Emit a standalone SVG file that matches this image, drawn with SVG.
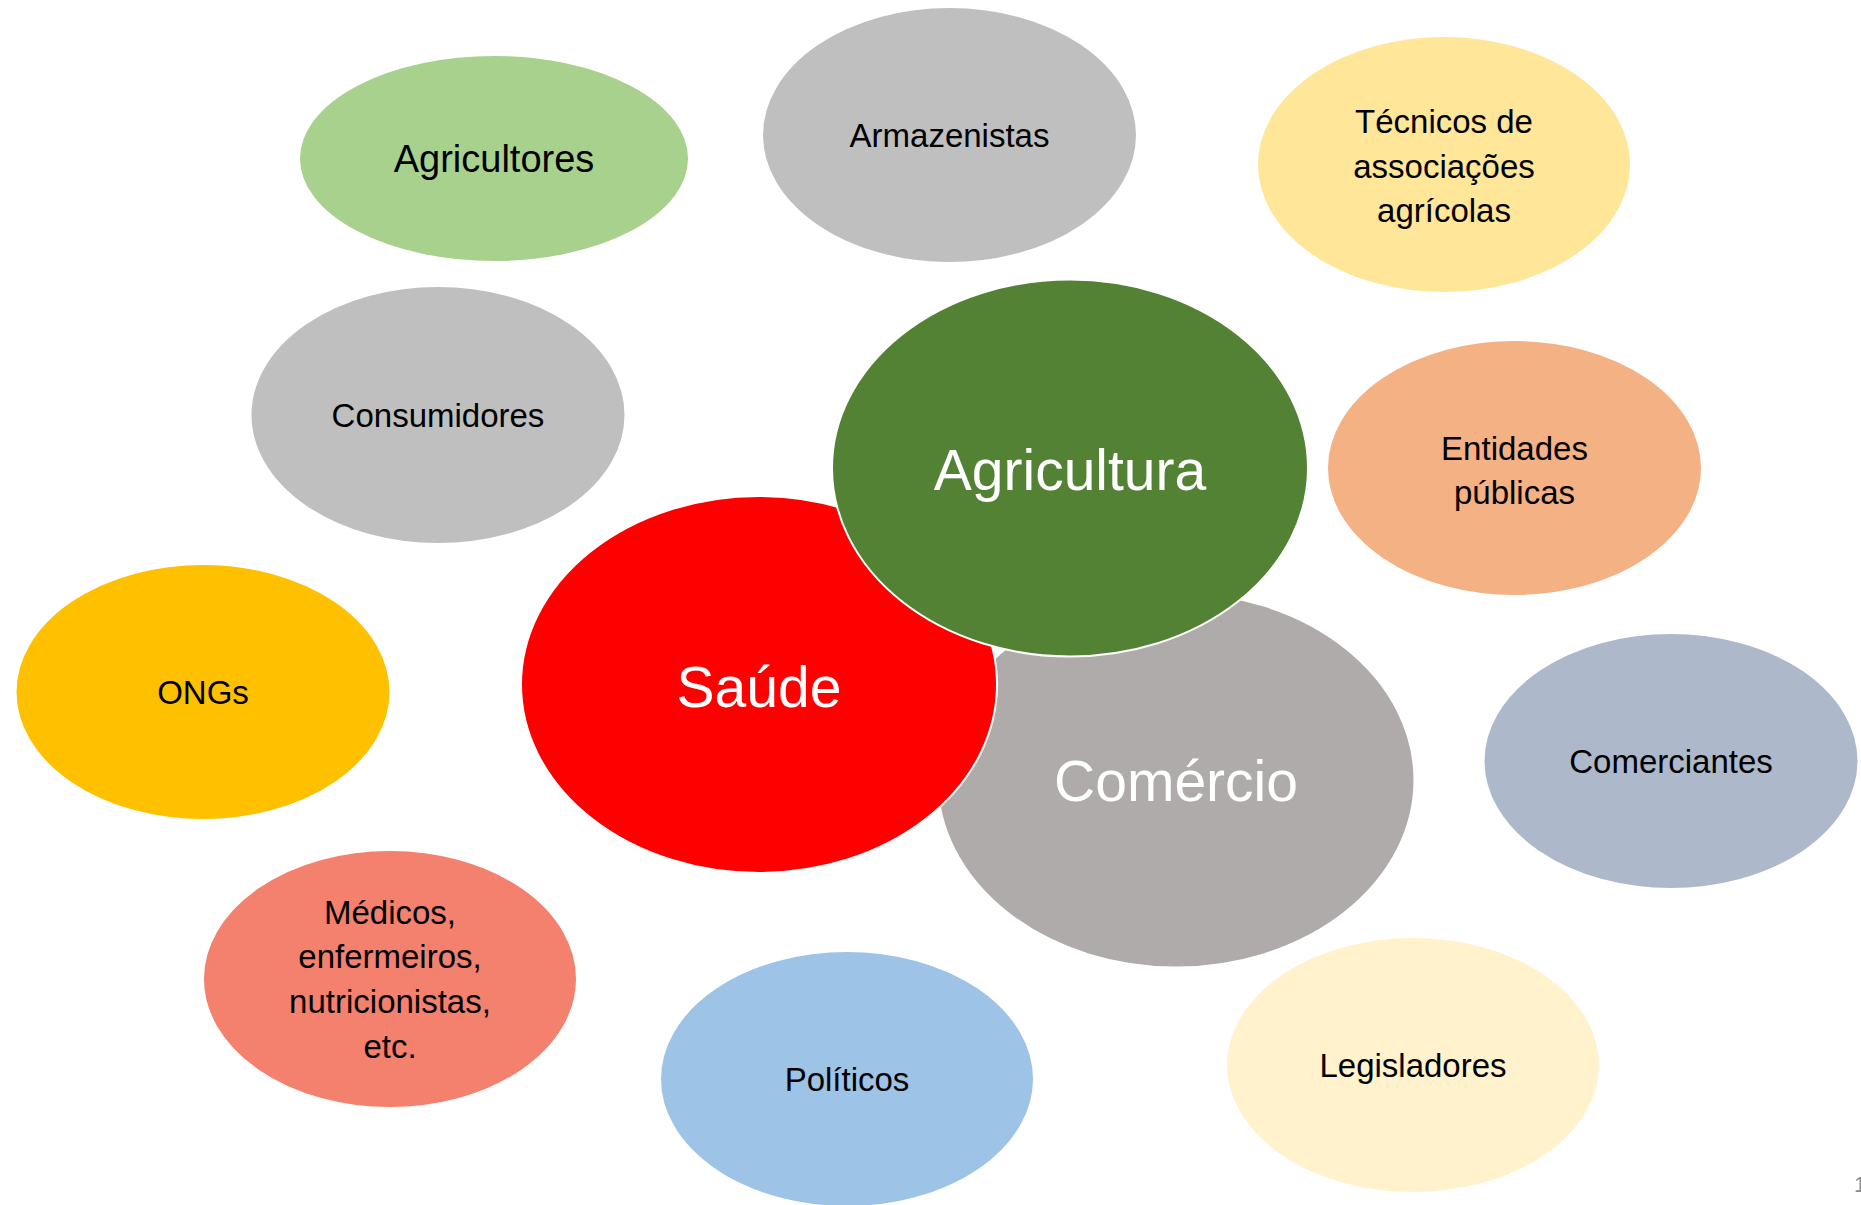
<svg xmlns="http://www.w3.org/2000/svg" width="1861" height="1205" viewBox="0 0 1861 1205">
<style>
  ellipse { stroke: #ffffff; stroke-width: 2; }
  text { font-family: "Liberation Sans", Arial, sans-serif; text-anchor: middle; }
  .s { font-size: 33px; fill: #000000; }
  .m { font-size: 38px; fill: #000000; }
  .b { font-size: 57px; fill: #ffffff; }
  .pg { font-size: 22px; fill: #8c8c8c; text-anchor: start; }
</style>
<rect x="0" y="0" width="1861" height="1205" fill="#ffffff"/>
<g id="connectors"></g>
<g id="agricultores">
  <ellipse cx="494" cy="158.5" rx="195" ry="103.5" fill="#A9D18E"/>
  <text class="m" x="494" y="172">Agricultores</text>
</g>
<g id="armazenistas">
  <ellipse cx="949.5" cy="135" rx="187.5" ry="128" fill="#BFBFBF"/>
  <text class="s" x="949.5" y="147">Armazenistas</text>
</g>
<g id="tecnicos">
  <ellipse cx="1444" cy="164.5" rx="187" ry="128.5" fill="#FFE699"/>
  <text class="s" x="1444" y="133">Técnicos de</text>
  <text class="s" x="1444" y="178">associações</text>
  <text class="s" x="1444" y="222">agrícolas</text>
</g>
<g id="consumidores">
  <ellipse cx="438" cy="415" rx="187.5" ry="129" fill="#BFBFBF"/>
  <text class="s" x="438" y="427">Consumidores</text>
</g>
<g id="entidades">
  <ellipse cx="1514.5" cy="468" rx="187.5" ry="128" fill="#F4B183"/>
  <text class="s" x="1514.5" y="460">Entidades</text>
  <text class="s" x="1514.5" y="504">públicas</text>
</g>
<g id="ongs">
  <ellipse cx="203" cy="692" rx="187.5" ry="128" fill="#FFC000"/>
  <text class="s" x="203" y="704">ONGs</text>
</g>
<g id="comerciantes">
  <ellipse cx="1671" cy="761" rx="187.5" ry="128" fill="#ADB9CA"/>
  <text class="s" x="1671" y="773">Comerciantes</text>
</g>
<g id="medicos">
  <ellipse cx="390" cy="979" rx="187" ry="129" fill="#F4806E"/>
  <text class="s" x="390" y="924">Médicos,</text>
  <text class="s" x="390" y="968">enfermeiros,</text>
  <text class="s" x="390" y="1013">nutricionistas,</text>
  <text class="s" x="390" y="1058">etc.</text>
</g>
<g id="politicos">
  <ellipse cx="847" cy="1079" rx="187" ry="128" fill="#9DC3E6"/>
  <text class="s" x="847" y="1091">Políticos</text>
</g>
<g id="legisladores">
  <ellipse cx="1413" cy="1065" rx="187" ry="128" fill="#FFF2CC"/>
  <text class="s" x="1413" y="1077">Legisladores</text>
</g>
<g id="comercio">
  <ellipse cx="1176" cy="780" rx="238.5" ry="187.5" fill="#AFABAB"/>
  <text class="b" x="1176" y="801">Comércio</text>
</g>
<g id="saude">
  <ellipse cx="759" cy="684.5" rx="238" ry="188.5" fill="#FF0000"/>
  <text class="b" x="759" y="707">Saúde</text>
</g>
<g id="agricultura">
  <ellipse cx="1070" cy="468" rx="238" ry="188.5" fill="#548235"/>
  <text class="b" x="1070" y="490">Agricultura</text>
</g>
<text class="pg" x="1854" y="1192">1</text>
</svg>
